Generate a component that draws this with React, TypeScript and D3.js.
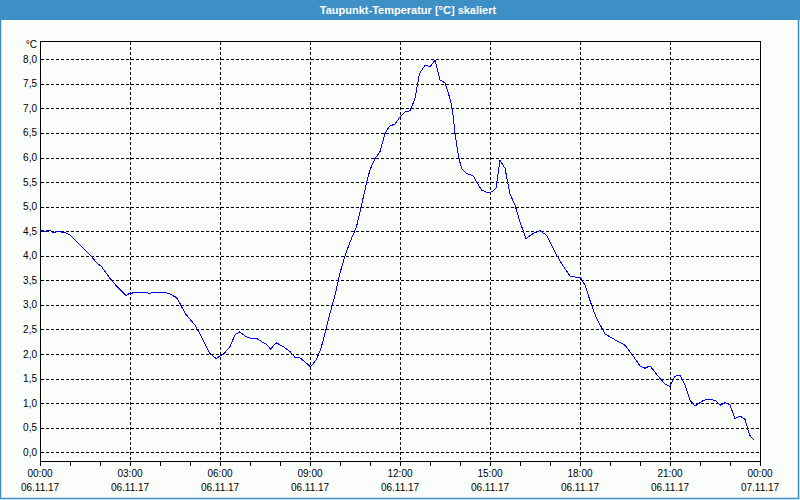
import React from "react";
import * as d3 from "d3";

const TITLE = "Taupunkt-Temperatur [°C] skaliert";
const UNIT = "°C";

// minutes since 06.11.17 00:00
const minutes = [
  0, 10, 20, 26, 32, 50, 60, 80, 100, 113, 123, 140, 157, 172, 180, 200, 220, 233, 250, 260,
  273, 280, 290, 310, 323, 340, 352, 367, 380, 390, 399, 413, 423, 433, 447, 453, 461, 472, 487, 500,
  510, 519, 530, 541, 552, 561, 570, 580, 590, 600, 610, 620, 633, 643, 653, 660, 670, 680, 690, 699,
  710, 720, 730, 740, 750, 759, 770, 780, 790, 800, 810, 820, 825, 830, 837, 843, 853, 867, 873, 883,
  893, 903, 912, 920, 930, 940, 950, 960, 972, 987, 1000, 1013, 1033, 1047, 1060, 1077, 1080, 1090, 1103, 1113,
  1130, 1150, 1170, 1187, 1200, 1210, 1220, 1237, 1250, 1260, 1270, 1280, 1290, 1300, 1310, 1327, 1340, 1351, 1361, 1370,
  1380, 1390, 1400, 1410, 1419, 1428,
];

const dewPoint = [
  4.52, 4.5, 4.52, 4.46, 4.49, 4.48, 4.42, 4.22, 4.02, 3.86, 3.78, 3.54, 3.34, 3.19, 3.24, 3.25, 3.24, 3.26, 3.26, 3.22,
  3.15, 3.03, 2.83, 2.59, 2.35, 2.01, 1.91, 2.0, 2.15, 2.39, 2.45, 2.35, 2.32, 2.32, 2.23, 2.2, 2.1, 2.23, 2.15, 2.05,
  1.93, 1.93, 1.84, 1.74, 1.88, 2.08, 2.42, 2.83, 3.2, 3.65, 4.0, 4.28, 4.59, 5.03, 5.48, 5.75, 5.98, 6.12, 6.49, 6.64,
  6.68, 6.83, 6.93, 6.95, 7.2, 7.71, 7.88, 7.85, 7.98, 7.58, 7.52, 7.2, 6.97, 6.49, 6.02, 5.78, 5.68, 5.62, 5.51, 5.34,
  5.29, 5.3, 5.37, 5.94, 5.78, 5.26, 5.03, 4.69, 4.35, 4.46, 4.51, 4.42, 4.02, 3.78, 3.59, 3.55, 3.57, 3.4, 3.0, 2.73,
  2.41, 2.29, 2.18, 1.95, 1.76, 1.71, 1.76, 1.54, 1.39, 1.34, 1.55, 1.57, 1.37, 1.06, 0.94, 1.06, 1.08, 1.05, 0.96, 1.01,
  0.96, 0.69, 0.74, 0.67, 0.35, 0.25,
];

const yTicks = [0, 0.5, 1, 1.5, 2, 2.5, 3, 3.5, 4, 4.5, 5, 5.5, 6, 6.5, 7, 7.5, 8];
const xTickMinutes = [0, 180, 360, 540, 720, 900, 1080, 1260, 1440];
const xTimeLabels = ["00:00", "03:00", "06:00", "09:00", "12:00", "15:00", "18:00", "21:00", "00:00"];
const xDateLabels = ["06.11.17", "06.11.17", "06.11.17", "06.11.17", "06.11.17", "06.11.17", "06.11.17", "06.11.17", "07.11.17"];
const minorTickMinutes = d3.range(0, 1441, 60);

const W = 800;
const H = 500;
const L = 40;
const R = 760;
const T = 41;
const B = 461;
const FONT = "'Liberation Sans', Arial, sans-serif";

export default function App() {
  const x = d3.scaleLinear().domain([0, 1440]).range([L, R]);
  const y = d3.scaleLinear().domain([-0.177, 8.372]).range([B, T]);
  const px = (v: number) => Math.round(v) + 0.5;
  const line = d3
    .line<number>()
    .x((_, i) => x(minutes[i]))
    .y((d) => y(d));

  return (
    <svg
      width={W}
      height={H}
      style={{ position: "absolute", left: 0, top: 0, background: "#fbfdfb" }}
    >
      <rect x={0} y={0} width={W} height={H} fill="#fbfdfb" />
      {/* window border */}
      <rect x={0.5} y={0.5} width={W - 2} height={H - 2} fill="none" stroke="#3e8fc6" strokeWidth={1.5} />
      <rect x={0} y={0} width={W} height={20} fill="#3e8fc6" />
      <text
        x={408}
        y={14}
        textAnchor="middle"
        fill="#ffffff"
        fontFamily={FONT}
        fontSize={11}
        fontWeight="bold"
      >
        {TITLE}
      </text>

      {/* grid */}
      <g stroke="#000" strokeWidth={1} strokeDasharray="3,2" shapeRendering="crispEdges">
        {yTicks.map((t) => (
          <line key={"gy" + t} x1={L + 1} x2={R} y1={px(y(t))} y2={px(y(t))} />
        ))}
        {xTickMinutes.slice(1, -1).map((m) => (
          <line key={"gx" + m} x1={px(x(m))} x2={px(x(m))} y1={T + 1} y2={B} />
        ))}
      </g>

      {/* frame */}
      <rect
        x={px(L)}
        y={px(T)}
        width={R - L}
        height={B - T}
        fill="none"
        stroke="#000"
        strokeWidth={1}
        shapeRendering="crispEdges"
      />
      <g stroke="#000" strokeWidth={1} shapeRendering="crispEdges">
        {minorTickMinutes.map((m) => (
          <line key={"mt" + m} x1={px(x(m))} x2={px(x(m))} y1={B} y2={B + 5} />
        ))}
      </g>

      {/* y labels */}
      <g fontFamily={FONT} fontSize={10} fill="#000" textAnchor="end">
        <text x={37} y={48}>{UNIT}</text>
        {yTicks.map((t) => (
          <text key={"yl" + t} x={37} y={y(t) + 3.5}>
            {t.toFixed(1).replace(".", ",")}
          </text>
        ))}
      </g>

      {/* x labels */}
      <g fontFamily={FONT} fontSize={10} fill="#000" textAnchor="middle">
        {xTickMinutes.map((m, i) => (
          <g key={"xl" + i}>
            <text x={x(m)} y={477}>{xTimeLabels[i]}</text>
            <text x={x(m)} y={491}>{xDateLabels[i]}</text>
          </g>
        ))}
      </g>

      {/* series */}
      <path
        d={line(dewPoint) || ""}
        fill="none"
        stroke="#0000ff"
        strokeWidth={1}
        shapeRendering="crispEdges"
      />
    </svg>
  );
}
